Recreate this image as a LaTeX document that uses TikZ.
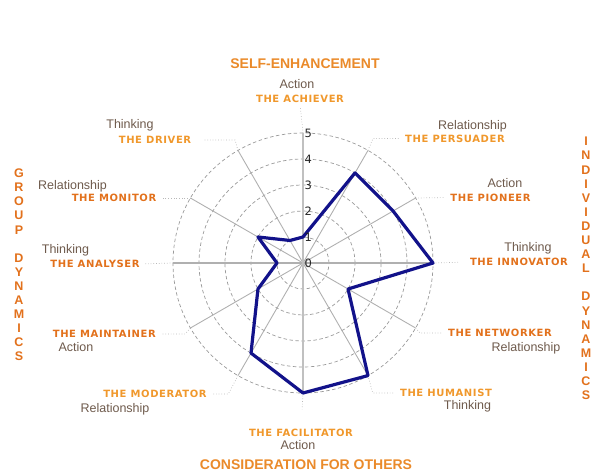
\documentclass[tikz,border=0pt]{standalone}
\usepackage{fontspec}
\setmainfont{Liberation Sans}
\newfontfamily\rolefont[LetterSpace=6]{DejaVu Sans}
\newfontfamily\scalefont{DejaVu Sans}
\usepackage{tikz}
\usetikzlibrary{positioning, calc}
\definecolor{LightOrange}{HTML}{F0982C}
\definecolor{DarkOrange}{HTML}{E2711C}
\definecolor{TitleOrange}{HTML}{EA8A2A}
\definecolor{ModeBrown}{HTML}{6E5A4C}
\definecolor{ScoreNavy}{HTML}{12128A}
\definecolor{GridGray}{HTML}{9A9A9A}
\definecolor{SpokeGray}{HTML}{B0B0B0}
\tikzset{
  rolelabel/.style={inner sep=0pt, font=\rolefont\bfseries\fontsize{10}{11}\selectfont},
  modelabel/.style={inner sep=0pt, text=ModeBrown, font=\fontsize{12.5}{14}\selectfont},
  axistitle/.style={inner sep=0pt, text=TitleOrange, font=\bfseries\fontsize{14}{16}\selectfont},
  sidetitle/.style={inner sep=0pt, align=center, text=DarkOrange, font=\bfseries\fontsize{12.5}{14.1}\selectfont},
  ticklabel/.style={inner sep=0pt, anchor=west, text=black!85, font=\scalefont\fontsize{11.5}{13}\selectfont},
  gridring/.style={GridGray, line width=0.7pt, dash pattern=on 3.5pt off 2.5pt},
  spokeline/.style={SpokeGray, line width=0.9pt},
  axisline/.style={SpokeGray!80, line width=1.8pt},
  leaderline/.style={GridGray!70, line width=0.7pt, dotted, shorten >=5pt},
  scoreline/.style={ScoreNavy, line width=3.2pt, line join=round}
}

\begin{document}
\begin{tikzpicture}[x=1pt, y=1pt]
  \useasboundingbox (0,0) rectangle (592,472);
  \coordinate (c) at (303,209);

  % Grid rings
  \foreach \r in {1,...,5}
    \draw[gridring] (c) circle[radius=\r*26];

  % Spokes
  \foreach \i in {0,...,11}
    \coordinate (e\i) at ($(c)+({90-30*\i}:130)$);
  \foreach \i in {1,2,4,5,7,8,10,11}
    \draw[spokeline] (c) -- (e\i);
  \draw[spokeline, line width=1.3pt] (e9) -- (e3);
  \draw[axisline] (e6) -- (e0);

  % Role labels
  \foreach \i/\x/\y/\col/\role in {
      0/300/372.7/LightOrange/THE ACHIEVER, 1/455/333.5/LightOrange/THE PERSUADER,
      2/490.5/274.5/DarkOrange/THE PIONEER, 3/519/210/DarkOrange/THE INNOVATOR,
      4/500/139/DarkOrange/THE NETWORKER, 5/446/79/LightOrange/THE HUMANIST,
      6/301/38.7/LightOrange/THE FACILITATOR, 7/155/78/LightOrange/THE MODERATOR,
      8/104.3/138/DarkOrange/THE MAINTAINER, 9/95/208/DarkOrange/THE ANALYSER,
      10/114/274/DarkOrange/THE MONITOR, 11/155/332/LightOrange/THE DRIVER}
    \node[rolelabel, text=\col] (r\i) at (\x,\y) {\role};

  % Mode labels
  \foreach \i/\x/\y/\mode in {
      0/297/388/Action, 1/472.5/346/Relationship, 2/505/289/Action,
      3/528/224/Thinking, 4/526/124/Relationship, 5/467.5/66/Thinking,
      6/298/27/Action, 7/115/63/Relationship, 8/76/125/Action,
      9/65.5/222/Thinking, 10/72.5/286/Relationship, 11/130/347/Thinking}
    \node[modelabel] (m\i) at (\x,\y) {\mode};

  % Leaders
  \coordinate (k1) at (373,333.5);
  \coordinate (k4) at (420,139);
  \coordinate (k5) at (372.7,79);
  \coordinate (k7) at (228.3,78);
  \coordinate (k8) at (185,138);
  \coordinate (k11) at (235,332);
  \draw[leaderline] (e0) -- (r0.south);
  \draw[leaderline] (e1) -- (k1) -- (r1.west);
  \draw[leaderline] (e2) -- (r2.west);
  \draw[leaderline, shorten >=10pt] (e3) -- (r3.west);
  \draw[leaderline] (e4) -- (k4) -- (r4.west);
  \draw[leaderline] (e5) -- (k5) -- (r5.west);
  \draw[leaderline, shorten >=20pt] (e6) -- (r6.north);
  \draw[leaderline] (e7) -- (k7) -- (r7.east);
  \draw[leaderline] (e8) -- (k8) -- (r8.east);
  \draw[leaderline] (e9) -- (r9.east);
  \draw[leaderline] (e10) -- (r10.east);
  \draw[leaderline, shorten >=12pt] (e11) -- (k11) -- (r11.east);

  % Scores
  \foreach \i/\v in {0/1, 1/4, 2/4, 3/5, 4/2, 5/5, 6/5, 7/4, 8/2, 9/1, 10/2, 11/1}
    \coordinate (s\i) at ($(c)+({90-30*\i}:\v*26)$);
  \draw[scoreline] (s0) -- (s1) -- (s2) -- (s3) -- (s4) -- (s5) -- (s6)
    -- (s7) -- (s8) -- (s9) -- (s10) -- (s11) -- cycle;

  % Scale
  \foreach \v in {0,...,5}
    \node[ticklabel] (t\v) at ($(c)+(1.5,\v*26)$) {\v};

  % Titles
  \node[axistitle] (selfenh) at (305,408) {SELF-ENHANCEMENT};
  \node[axistitle] (consider) at (306,7) {CONSIDERATION FOR OTHERS};
  \node[sidetitle] (groupdyn) at (19,207)
    {G\\R\\O\\U\\P\\[14.1pt]D\\Y\\N\\A\\M\\I\\C\\S};
  \node[sidetitle] (indivdyn) at (586,203.5)
    {I\\N\\D\\I\\V\\I\\D\\U\\A\\L\\[14.1pt]D\\Y\\N\\A\\M\\I\\C\\S};
\end{tikzpicture}
\end{document}
